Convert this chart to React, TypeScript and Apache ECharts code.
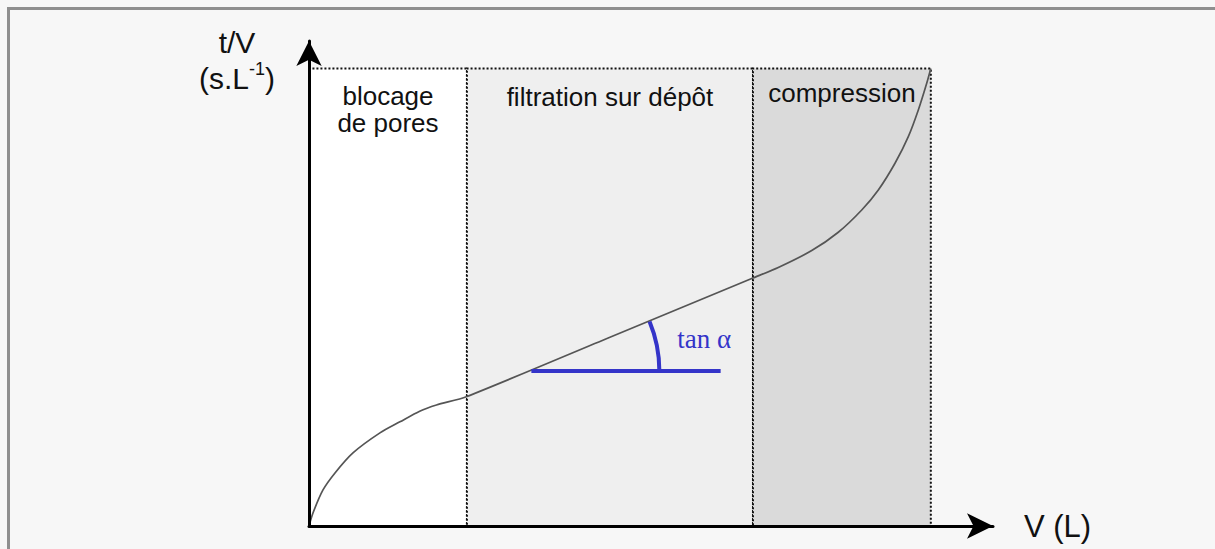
import React, { useEffect, useRef } from "react";
import * as echarts from "echarts";

// (V and t/V in arbitrary units)
const volumes = [0, 0.64, 2.25, 4.18, 7.07, 11.41, 14.62, 17.8, 20.5, 25.3, 48.3, 71.2, 75.47, 80.85, 85.12, 88.89, 91.56, 94.24, 96.38, 97.99, 99.34, 100];
const ratios = [0, 2.85, 7.88, 11.6, 15.98, 20.35, 22.76, 25.1, 26.45, 28.26, 41.2, 54.1, 56.5, 60.2, 64.2, 69.07, 73.44, 79.28, 85.09, 90.93, 96.77, 100];

const regionNames = ["blocage\nde pores", "filtration sur dépôt", "compression"];
const regionBounds = [0, 25.4, 71.4, 100];
const regionTop = 100;

// tangent annotation: [start V, level t/V, end V]
const tangent = [[35.6, 33.9, 66.2]];
const angleLabel = "tan α";

const yAxisTitle = "t/V\n(s.L{sup|-1})";
const xAxisTitle = "V (L)";

const regionColors = ["#ffffff", "#efefef", "#dadada"];
const labelDistances = [15, 16, 12];
const blue = "#3434c9";
const font = "Liberation Sans, Arial, sans-serif";

export default function App() {
  const ref = useRef<HTMLDivElement>(null);
  useEffect(() => {
    if (!ref.current) return;
    const chart = echarts.init(ref.current, undefined, { renderer: "svg" });
    const curve = volumes.map((v, i) => [v, ratios[i]]);
    const areas = regionNames.map((name, i) => [
      {
        name,
        xAxis: regionBounds[i],
        yAxis: 0,
        itemStyle: { color: regionColors[i] },
        label: { distance: labelDistances[i] },
      },
      { xAxis: regionBounds[i + 1], yAxis: regionTop },
    ]);
    chart.setOption({
      animation: false,
      backgroundColor: "#f7f7f7",
      grid: { left: 309, top: 41, right: 222, bottom: 23, containLabel: false },
      xAxis: {
        type: "value",
        min: 0,
        max: 110,
        z: 5,
        splitLine: { show: false },
        axisTick: { show: false },
        axisLabel: { show: false },
        axisLine: {
          show: true,
          symbol: ["none", "arrow"],
          symbolSize: [19, 26],
          lineStyle: { color: "#000", width: 3 },
        },
        name: xAxisTitle,
        nameLocation: "end",
        nameGap: 31,
        nameTextStyle: { fontSize: 31, color: "#111", fontFamily: font },
      },
      yAxis: {
        type: "value",
        min: 0,
        max: 106,
        z: 5,
        splitLine: { show: false },
        axisTick: { show: false },
        axisLabel: { show: false },
        axisLine: {
          show: true,
          symbol: ["none", "arrow"],
          symbolSize: [19, 25],
          lineStyle: { color: "#000", width: 3 },
        },
      },
      graphic: [
        { type: "rect", silent: true, shape: { x: 7, y: 7, width: 1208, height: 3 }, style: { fill: "#8f8f8f" } },
        { type: "rect", silent: true, shape: { x: 7, y: 7, width: 3, height: 542 }, style: { fill: "#8f8f8f" } },
        {
          type: "text",
          x: 237,
          y: 24,
          style: {
            text: yAxisTitle,
            fontSize: 30,
            fontFamily: font,
            fill: "#111",
            align: "center",
            verticalAlign: "top",
            lineHeight: 36,
            rich: {
              sup: { fontSize: 18, verticalAlign: "top", lineHeight: 18, fill: "#111", fontFamily: font },
            },
          },
        },
      ],
      series: [
        {
          type: "line",
          data: curve,
          smooth: 0.25,
          showSymbol: false,
          z: 3,
          lineStyle: { color: "#555", width: 1.7 },
          markArea: {
            silent: true,
            itemStyle: { borderColor: "#111", borderWidth: 2, borderType: "dotted" },
            label: {
              show: true,
              position: "insideTop",
              fontSize: 26,
              lineHeight: 27,
              color: "#111",
              fontFamily: font,
            },
            data: areas,
          },
        },
        {
          type: "custom",
          coordinateSystem: "cartesian2d",
          clip: false,
          z: 4,
          encode: { x: [0, 2], y: 1 },
          data: tangent,
          renderItem: (params: any, api: any) => {
            const c = api.coord([api.value(0), api.value(1)]);
            const e = api.coord([api.value(2), api.value(1)]);
            const p1 = api.coord([volumes[9], ratios[9]]);
            const p2 = api.coord([volumes[11], ratios[11]]);
            const ang = Math.atan2(p2[1] - p1[1], p2[0] - p1[0]);
            const r = 129;
            return {
              type: "group",
              children: [
                { type: "line", shape: { x1: c[0] + 1, y1: c[1], x2: e[0], y2: e[1] }, style: { stroke: blue, lineWidth: 4 } },
                {
                  type: "arc",
                  shape: { cx: c[0], cy: c[1], r, startAngle: ang, endAngle: 0, clockwise: true },
                  style: { stroke: blue, lineWidth: 4, fill: "none" },
                },
                {
                  type: "text",
                  x: c[0] + 147,
                  y: c[1] - 32,
                  style: {
                    text: angleLabel,
                    fill: blue,
                    fontSize: 27,
                    fontFamily: "Liberation Serif, Times New Roman, serif",
                    align: "left",
                    verticalAlign: "middle",
                  },
                },
              ],
            };
          },
        },
      ],
    });
    return () => chart.dispose();
  }, []);
  return <div ref={ref} style={{ position: "fixed", left: 0, top: 0, width: 1215, height: 549 }} />;
}
